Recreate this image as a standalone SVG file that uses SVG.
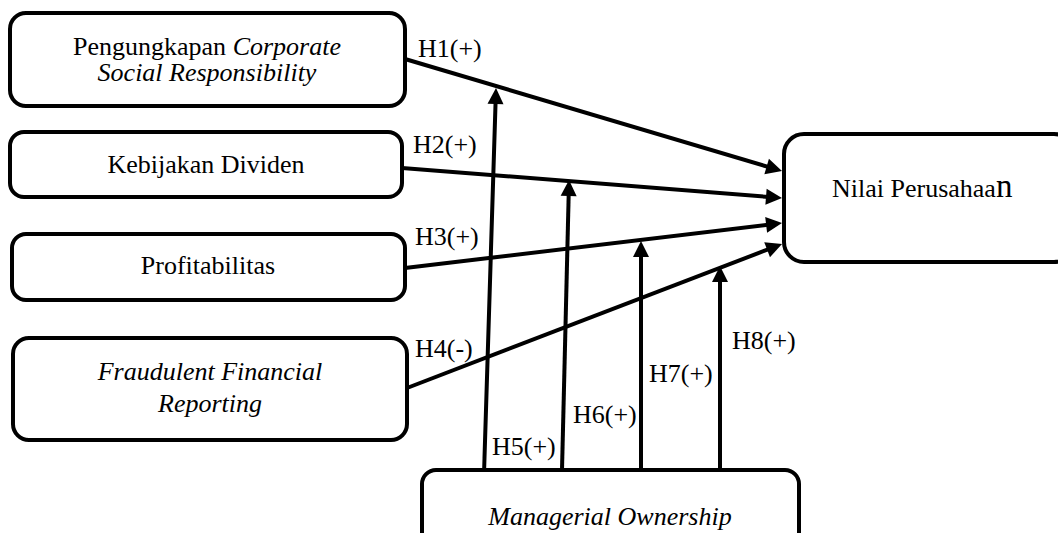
<svg xmlns="http://www.w3.org/2000/svg" width="1058" height="533" viewBox="0 0 1058 533">
<defs>
<style>
.box{fill:#fff;stroke:#000;stroke-width:4}
.t{font-family:"Liberation Serif","Times New Roman",serif;font-size:26px;fill:#000}
.c{text-anchor:middle}
.i{font-style:italic}
.ln{stroke:#000;stroke-width:4;fill:none;marker-end:url(#ah)}
</style>
<marker id="ah" markerUnits="userSpaceOnUse" markerWidth="17" markerHeight="16" refX="6" refY="8" orient="auto" overflow="visible">
<path d="M0,0 L16,8 L0,16 z" fill="#000"/>
</marker>
</defs>
<rect width="1058" height="533" fill="#fff"/>
<g id="connectors">
<line class="ln" x1="405" y1="59" x2="772.4" y2="168.2"/>
<line class="ln" x1="402" y1="168" x2="772" y2="197.2"/>
<line class="ln" x1="405" y1="268" x2="772.1" y2="224.2"/>
<line class="ln" x1="407" y1="388" x2="772.7" y2="247.6"/>
<line class="ln" x1="484" y1="474" x2="495.7" y2="98"/>
<line class="ln" x1="562" y1="470" x2="568.8" y2="190"/>
<line class="ln" x1="641" y1="470" x2="641" y2="251"/>
<line class="ln" x1="720" y1="470" x2="720" y2="276"/>
<g class="t">
<text x="418" y="57">H1(+)</text>
<text x="413" y="153">H2(+)</text>
<text x="415" y="245">H3(+)</text>
<text x="415" y="357">H4(-)</text>
<text x="492" y="455">H5(+)</text>
<text x="573" y="423">H6(+)</text>
<text x="649" y="382">H7(+)</text>
<text x="732" y="349">H8(+)</text>
</g>
</g>
<g id="csr">
<rect class="box" x="10" y="13" width="395" height="93" rx="16"/>
<text class="t c" x="207" y="55">Pengungkapan <tspan class="i">Corporate</tspan></text>
<text class="t c i" x="207" y="81">Social Responsibility</text>
</g>
<g id="dividen">
<rect class="box" x="10" y="132" width="392" height="65" rx="14"/>
<text class="t c" x="206" y="173">Kebijakan Dividen</text>
</g>
<g id="profit">
<rect class="box" x="12" y="234" width="393" height="66" rx="14"/>
<text class="t c" x="208" y="274">Profitabilitas</text>
</g>
<g id="fraud">
<rect class="box" x="13" y="338" width="394" height="102" rx="16"/>
<text class="t c i" x="210" y="380">Fraudulent Financial</text>
<text class="t c i" x="210" y="412">Reporting</text>
</g>
<g id="managerial">
<rect class="box" x="422" y="470" width="377" height="80" rx="14"/>
<text class="t c i" x="610" y="525">Managerial Ownership</text>
</g>
<g id="nilai">
<rect class="box" x="784" y="134" width="290" height="128" rx="20"/>
<text class="t" x="832" y="197">Nilai Perusahaa<tspan font-size="33">n</tspan></text>
</g>
</svg>
